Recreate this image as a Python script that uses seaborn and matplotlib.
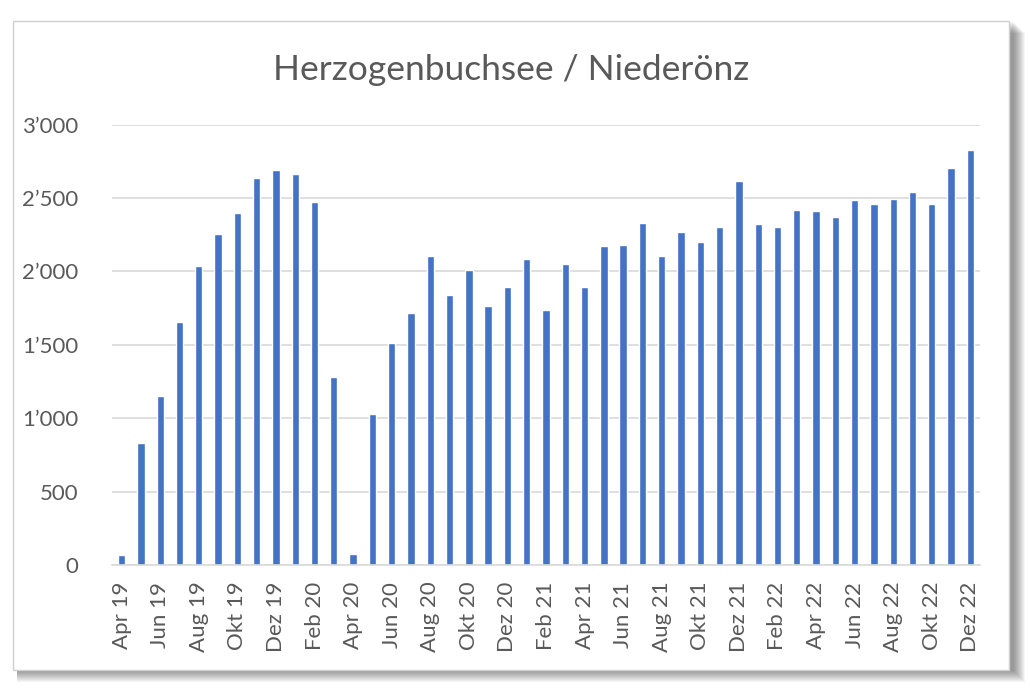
import numpy as np
import pandas as pd
import matplotlib
matplotlib.use("Agg")
import matplotlib.pyplot as plt
import matplotlib.patches as mpatches
from matplotlib.ticker import FuncFormatter, FixedLocator
import seaborn as sns

# monthly values, Apr 2019 - Dez 2022
month_names = ['Jan', 'Feb', 'Mar', 'Apr', 'Mai', 'Jun',
               'Jul', 'Aug', 'Sep', 'Okt', 'Nov', 'Dez']
months = [f"{month_names[(m - 1) % 12]} {19 + (m - 1) // 12}" for m in range(4, 49)]
values = [65, 832, 1154, 1658, 2039, 2256, 2397, 2635, 2692, 2664, 2474, 1279,
          73, 1029, 1515, 1714, 2104, 1837, 2009, 1762, 1893, 2084, 1735, 2048,
          1896, 2170, 2181, 2331, 2104, 2265, 2197, 2304, 2617, 2322, 2304, 2420,
          2408, 2370, 2485, 2456, 2494, 2542, 2456, 2703, 2825]
title = "Herzogenbuchsee / Niederönz"

df = pd.DataFrame({'month': months, 'value': values})

sns.set_style("white")
plt.rcParams['font.family'] = ['Lato', 'DejaVu Sans']

grey_text = '#595959'
grid_col = '#d9d9d9'
bar_col = '#4472C4'

fig = plt.figure(figsize=(10.3, 6.99), dpi=100)
W, H = 1030, 699

# drop shadow + frame of the chart box
x0, y0, x1, y1 = 13, 21, 1009, 670
for k in range(12, 0, -1):
    fig.patches.append(mpatches.Rectangle(
        ((x0 + 4) / W, 1 - (y1 + k) / H), (x1 - x0 + k) / W, (y1 - y0) / H,
        transform=fig.transFigure, facecolor='black', edgecolor='none',
        alpha=0.04, zorder=0))
fig.patches.append(mpatches.Rectangle(
    (x0 / W, 1 - y1 / H), (x1 - x0) / W, (y1 - y0) / H,
    transform=fig.transFigure, facecolor='white', edgecolor='#d0d0d0',
    linewidth=1, zorder=1))

ax = fig.add_axes([112 / W, 1 - 565 / H, (980 - 112) / W, (565 - 124.5) / H])
ax.set_zorder(2)
ax.patch.set_alpha(0)

sns.barplot(data=df, x='month', y='value', color=bar_col, width=0.38,
            saturation=1, ax=ax)

ax.set_ylim(0, 3000)
ax.set_xlim(-0.5, len(months) - 0.5)
ax.set_yticks(np.arange(0, 3001, 500))
ax.yaxis.set_major_formatter(FuncFormatter(lambda v, p: f"{int(v):,}".replace(',', '’')))
ax.grid(axis='y', color=grid_col, linewidth=1.2)
ax.set_axisbelow(True)

ax.set_xticks(np.arange(0, len(months), 2))
ax.set_xticklabels(months[::2], rotation=90, va='top', ha='center')
ax.xaxis.set_minor_locator(FixedLocator(np.arange(-0.5, len(months), 2)))
ax.tick_params(axis='x', which='major', length=0, pad=12, labelsize=16, labelcolor=grey_text)
ax.tick_params(axis='x', which='minor', length=6, width=1.2, color=grid_col)
ax.tick_params(axis='y', length=0, pad=24, labelsize=16, labelcolor=grey_text)

for s in ['top', 'right', 'left']:
    ax.spines[s].set_visible(False)
ax.spines['bottom'].set_color(grid_col)
ax.spines['bottom'].set_linewidth(1.2)
ax.set_xlabel('')
ax.set_ylabel('')

fig.text(511 / W, 1 - 70 / H, title, ha='center', va='center',
         fontsize=25.5, color=grey_text, zorder=3)

fig.savefig('out.png', dpi=100)
